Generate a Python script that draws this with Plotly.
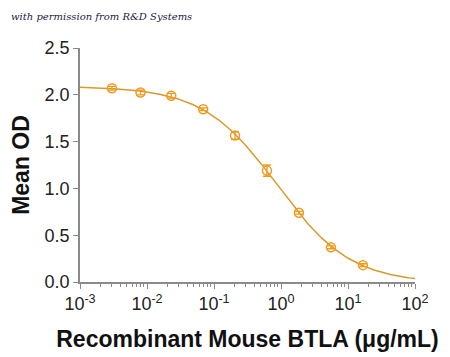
import numpy as np
import plotly.graph_objects as go

# Data
concentration = [0.003, 0.008, 0.023, 0.069, 0.206, 0.617, 1.85, 5.56, 16.7]
mean_od = [2.07, 2.025, 1.99, 1.845, 1.565, 1.19, 0.74, 0.37, 0.18]
od_err = [0.02, 0.025, 0.025, 0.015, 0.04, 0.06, 0.015, 0.015, 0.015]
x_tick_vals = [0.001, 0.01, 0.1, 1, 10, 100]
x_tick_text = ["10<sup>-3</sup>", "10<sup>-2</sup>", "10<sup>-1</sup>",
               "10<sup>0</sup>", "10<sup>1</sup>", "10<sup>2</sup>"]
y_tick_vals = [0.0, 0.5, 1.0, 1.5, 2.0, 2.5]
y_tick_text = ["0.0", "0.5", "1.0", "1.5", "2.0", "2.5"]

# 4-parameter logistic fit from the data (grid search, linear LSQ for top/bottom)
xd = np.array(concentration)
yd = np.array(mean_od)
best = None
for logc in np.linspace(-1.5, 1.0, 251):
    c = 10 ** logc
    for h in np.linspace(0.4, 1.6, 121):
        g = 1.0 / (1.0 + (xd / c) ** h)
        A = np.vstack([g, 1 - g]).T
        coef, *_ = np.linalg.lstsq(A, yd, rcond=None)
        r = np.sum((A @ coef - yd) ** 2)
        if best is None or r < best[0]:
            best = (r, c, h, coef[0], coef[1])
_, c_fit, h_fit, top_fit, bot_fit = best
xf = np.logspace(-3, 2, 300)
yf = bot_fit + (top_fit - bot_fit) / (1 + (xf / c_fit) ** h_fit)

line_color = "#D99A2B"
marker_color = "#EE9B1F"

fig = go.Figure()
fig.add_trace(go.Scatter(x=xf, y=yf, mode="lines",
                         line=dict(color=line_color, width=1.5),
                         hoverinfo="skip", showlegend=False))
fig.add_trace(go.Scatter(x=concentration, y=mean_od, mode="markers",
                         marker=dict(symbol="circle-open", size=9,
                                     color=marker_color, line=dict(width=1.5)),
                         error_y=dict(type="data", array=od_err, visible=True,
                                      color=marker_color, thickness=1.3, width=4),
                         showlegend=False))

axis_font = dict(family="Liberation Sans, Arial", size=18, color="#222")
title_font = dict(family="Liberation Sans, Arial", size=23, color="#111")
fig.update_layout(
    width=442, height=349,
    margin=dict(l=72, r=35, t=40, b=75),
    paper_bgcolor="white", plot_bgcolor="white",
    xaxis=dict(type="log", range=[-3, 2], tickvals=x_tick_vals, ticktext=x_tick_text,
               showgrid=False, zeroline=False, showline=True,
               linecolor="#8a8a8a", linewidth=1.5,
               ticks="outside", ticklen=5, tickcolor="#8a8a8a", tickwidth=1,
               minor=dict(ticks="outside", ticklen=3, tickcolor="#8a8a8a",
                          dtick="D1", showgrid=False),
               tickfont=axis_font, automargin=False,
               title=dict(text="<b>Recombinant Mouse BTLA (μg/mL)</b>",
                          font=title_font, standoff=18)),
    yaxis=dict(range=[0, 2.5], tickvals=y_tick_vals, ticktext=y_tick_text,
               showgrid=False, zeroline=False, showline=True,
               linecolor="#8a8a8a", linewidth=1.5,
               ticks="outside", ticklen=5, tickcolor="#8a8a8a", tickwidth=1,
               tickfont=axis_font, automargin=False,
               title=dict(text="<b>Mean OD</b>", font=title_font, standoff=10)),
    annotations=[dict(text="<i>with permission from R&amp;D Systems</i>",
                      xref="paper", yref="paper",
                      x=-71 / 335, y=1 + 32 / 234,
                      xanchor="left", yanchor="middle", showarrow=False,
                      font=dict(family="DejaVu Serif", size=10, color="#1a1a40"))],
)
fig.write_html("out.html")
